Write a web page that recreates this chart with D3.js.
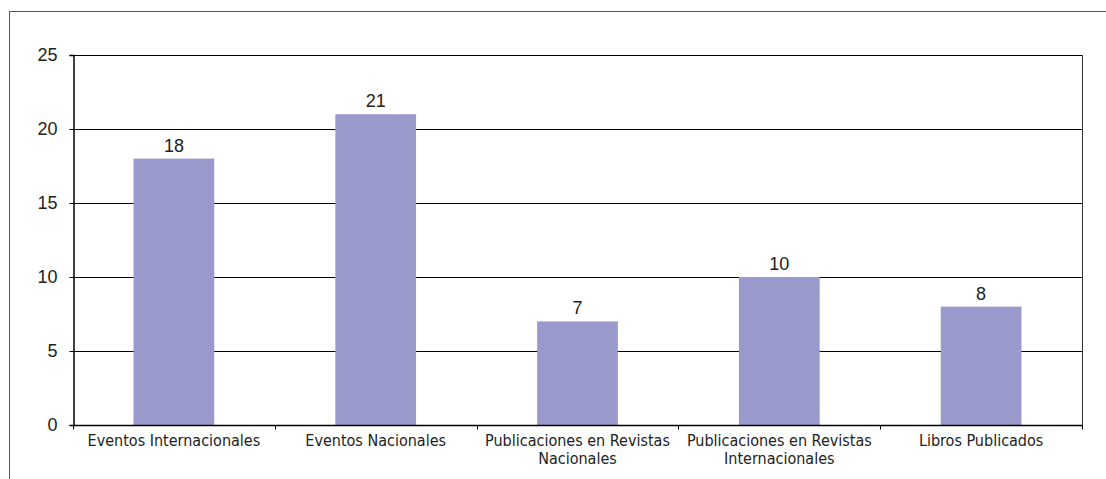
<!DOCTYPE html>
<html>
<head>
<meta charset="utf-8">
<script src="https://cdn.jsdelivr.net/npm/d3@7"></script>
<style>
	body { margin: 0; background: #fff; }
	text { font-family: "Liberation Sans", Arial, sans-serif; fill: #222; }
	.cat { font-family: "Liberation Sans Narrow", "DejaVu Sans Condensed", sans-serif; }
</style>
</head>
<body>
<div id="viz"></div>
<script>
var categories = [
	["Eventos Internacionales"],
	["Eventos Nacionales"],
	["Publicaciones en Revistas", "Nacionales"],
	["Publicaciones en Revistas", "Internacionales"],
	["Libros Publicados"]
];
var values = [18, 21, 7, 10, 8];
var yTicks = [0, 5, 10, 15, 20, 25];

var WIDTH = 1106;
var HEIGHT = 479;
var LEFT = 73, RIGHT = 1082, TOP = 55, BOTTOM = 425;

var svg = d3.select("#viz").append("svg")
	.attr("width", WIDTH)
	.attr("height", HEIGHT);

// outer frame
svg.append("rect")
	.attr("x", 9.5).attr("y", 11.5)
	.attr("width", WIDTH)
	.attr("height", HEIGHT)
	.attr("fill", "none")
	.attr("stroke", "#555")
	.attr("stroke-width", 1);

var x = d3.scaleBand()
	.domain(d3.range(categories.length))
	.range([LEFT, RIGHT]);

var y = d3.scaleLinear()
	.domain([0, 25])
	.range([BOTTOM, TOP]);

// gridlines
svg.append("g").selectAll("line")
	.data(yTicks.filter(function(d) { return d > 0; }))
	.enter().append("line")
	.attr("x1", LEFT).attr("x2", RIGHT)
	.attr("y1", function(d) { return Math.round(y(d)) + 0.5; })
	.attr("y2", function(d) { return Math.round(y(d)) + 0.5; })
	.attr("stroke", "#000")
	.attr("stroke-width", 1);

// right border of plot
svg.append("line")
	.attr("x1", RIGHT + 0.5).attr("x2", RIGHT + 0.5)
	.attr("y1", TOP).attr("y2", BOTTOM)
	.attr("stroke", "#333");

// bars
var barW = x.bandwidth() * 0.4;
svg.append("g").selectAll("rect")
	.data(values)
	.enter().append("rect")
	.attr("x", function(d, i) { return x(i) + (x.bandwidth() - barW) / 2; })
	.attr("y", function(d) { return y(d); })
	.attr("width", barW)
	.attr("height", function(d) { return y(0) - y(d); })
	.attr("fill", "#9999cc");

// value labels
svg.append("g").selectAll("text")
	.data(values)
	.enter().append("text")
	.attr("x", function(d, i) { return x(i) + x.bandwidth() / 2; })
	.attr("y", function(d) { return y(d) - 7; })
	.attr("text-anchor", "middle")
	.attr("font-size", 18)
	.text(function(d) { return d; });

// y axis
var yAxis = svg.append("g")
	.attr("transform", "translate(" + (LEFT + 0.5) + ",0)")
	.call(d3.axisLeft(y).tickValues(yTicks).tickSize(4).tickPadding(12));
yAxis.select(".domain").attr("stroke", "#000").attr("stroke-width", 1.5);
yAxis.selectAll("text").attr("font-size", 18).attr("fill", "#222");

// x axis
var xAxis = svg.append("g")
	.attr("transform", "translate(0," + (BOTTOM + 0.5) + ")");
xAxis.append("line")
	.attr("x1", LEFT).attr("x2", RIGHT + 1)
	.attr("stroke", "#000").attr("stroke-width", 1.5);
xAxis.selectAll(".tick")
	.data(d3.range(categories.length + 1))
	.enter().append("line")
	.attr("x1", function(d) { return Math.round(LEFT + d * x.step()) + 0.5; })
	.attr("x2", function(d) { return Math.round(LEFT + d * x.step()) + 0.5; })
	.attr("y1", 0).attr("y2", 4)
	.attr("stroke", "#000");

// category labels, one text per line
var lines = [];
categories.forEach(function(c, i) {
	c.forEach(function(s, j) { lines.push({ i: i, j: j, s: s }); });
});
xAxis.selectAll(".cat")
	.data(lines)
	.enter().append("text")
	.attr("class", "cat")
	.attr("text-anchor", "middle")
	.attr("font-size", 16)
	.attr("x", function(d) { return x(d.i) + x.bandwidth() / 2; })
	.attr("y", function(d) { return 20 + d.j * 18; })
	.text(function(d) { return d.s; });
</script>
</body>
</html>
